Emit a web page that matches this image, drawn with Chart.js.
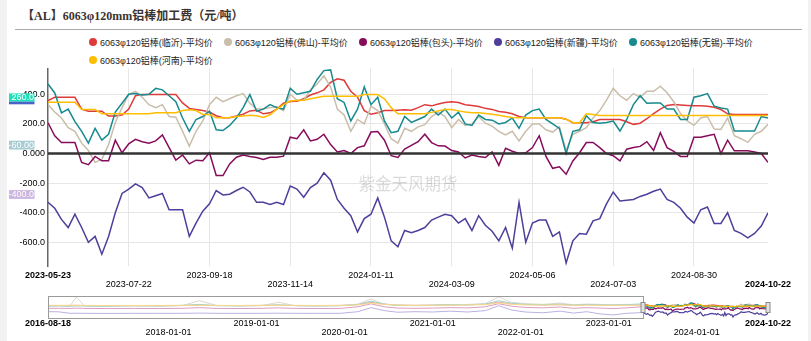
<!DOCTYPE html>
<html><head><meta charset="utf-8">
<script src="https://cdn.jsdelivr.net/npm/chart.js@4.4.1/dist/chart.umd.min.js"></script>
<style>
html,body{margin:0;padding:0;background:#fff;width:811px;height:341px;overflow:hidden;position:relative;font-family:"Liberation Sans","Noto Sans CJK SC",sans-serif;}
#lstrip{position:absolute;left:0;top:0;width:7px;height:341px;background:#f2f2f2;}
#rstrip{position:absolute;right:0;top:0;width:3px;height:341px;background:#f2f2f2;}
#title{position:absolute;left:22px;top:7px;font-weight:bold;font-size:12px;font-family:"Liberation Serif","Noto Sans CJK SC",serif;color:#3b3330;white-space:nowrap;line-height:18px;}
#tline{position:absolute;left:15px;top:29px;width:787px;height:1px;background:#aaa;}
#legend{position:absolute;left:89px;top:35px;width:680px;}
.li{display:inline-flex;align-items:center;width:135px;height:14px;font-size:9px;color:#222;white-space:nowrap;vertical-align:top;}
.dot{width:8px;height:8px;border-radius:50%;margin-right:3px;flex:none;}
#main{position:absolute;left:0;top:60px;}
#nav{position:absolute;left:0;top:290px;}
</style></head>
<body>
<div id="lstrip"></div><div id="rstrip"></div>
<div id="title">【AL】6063φ120mm铝棒加工费（元/吨）</div>
<div id="tline"></div>
<div id="legend"></div>
<canvas id="main" width="811" height="235"></canvas>
<canvas id="nav" width="811" height="51"></canvas>
<script>
// ---------- DATA ----------
const seriesNames = ['6063φ120铝棒(临沂)-平均价','6063φ120铝棒(佛山)-平均价','6063φ120铝棒(包头)-平均价','6063φ120铝棒(新疆)-平均价','6063φ120铝棒(无锡)-平均价','6063φ120铝棒(河南)-平均价'];
const seriesColors = ['#de3a3a','#c9beaa','#870b5b','#4f3e9b','#168a8e','#fdbd00'];
const seriesFaded = ['#efa3a3','#e0d8cc','#dc9cc0','#bdb0e2','#98d0ce','#f9da8a'];

const tickLabels = ['2023-05-23','2023-07-22','2023-09-18','2023-11-14','2024-01-11','2024-03-09','2024-05-06','2024-07-03','2024-08-30','2024-10-22'];

const linyi = [357,380,380,380,380,300,286,286,286,253,
253,260,300,390,398,398,398,398,398,398,
342,305,297,290,280,255,241,241,253,265,
288,292,268,275,300,340,352,353,370,395,
410,430,480,505,495,420,380,290,265,275,
290,290,292,295,292,310,330,322,335,345,
349,345,330,325,318,305,298,284,278,268,
250,242,241,241,241,241,241,232,208,208,
208,215,230,230,230,230,215,197,205,235,
270,300,325,331,328,325,323,322,320,312,
297,268,264,264,264,264,264,264];
const foshan = [331,280,240,175,150,70,20,-60,-40,60,
210,310,400,420,380,330,310,330,250,245,
150,50,150,220,330,380,350,370,390,405,
340,300,300,310,315,290,400,360,360,430,
470,525,450,300,260,150,230,200,320,290,
200,100,70,170,150,180,195,250,280,250,
175,230,190,200,250,205,185,150,125,150,
85,150,200,200,160,145,180,20,130,150,
175,240,290,360,440,390,360,405,380,420,
420,455,410,350,270,220,190,240,250,165,
163,240,120,100,75,130,150,197];
const baotou = [208,119,74,74,74,-60,-75,-20,-49,-49,
90,5,65,96,80,70,85,125,40,-45,
-10,-70,-45,-49,5,-149,-149,-70,-25,-11,
-20,-27,-40,-25,-25,-18,110,100,160,85,
96,130,60,10,20,0,40,52,145,148,
90,-15,-27,30,55,80,130,74,52,50,
20,10,-30,-10,-20,-27,10,-80,35,15,
0,5,40,120,-20,-100,-90,-140,-50,5,
74,75,40,0,-15,-50,29,40,48,80,
20,140,40,15,-20,-20,110,110,120,130,
0,90,18,18,18,10,0,-60];
const xinjiang = [-330,-370,-445,-500,-410,-500,-600,-560,-680,-560,
-400,-270,-240,-205,-230,-300,-285,-270,-380,-380,
-380,-560,-470,-390,-340,-250,-280,-275,-250,-228,
-260,-330,-330,-345,-330,-345,-220,-240,-295,-230,
-200,-130,-180,-310,-370,-420,-530,-440,-410,-300,
-430,-590,-630,-520,-535,-520,-500,-450,-430,-410,
-420,-470,-440,-520,-420,-485,-525,-590,-500,-640,
-330,-600,-470,-450,-450,-560,-530,-740,-590,-540,
-545,-455,-440,-340,-260,-320,-315,-310,-290,-275,
-255,-240,-310,-330,-370,-430,-470,-380,-362,-473,
-473,-400,-520,-540,-570,-540,-490,-400];
const wuxi = [470,409,275,300,215,150,70,170,90,130,
280,340,400,405,395,400,440,430,390,350,
240,150,230,250,286,160,155,190,240,310,
398,286,300,331,310,300,440,400,410,420,
500,560,565,370,345,220,300,450,330,380,
220,141,150,250,210,230,250,300,260,300,
240,280,200,190,260,230,225,200,210,240,
170,260,290,300,230,200,170,0,150,160,
255,210,205,210,219,152,230,330,390,340,
342,342,300,300,230,230,380,390,405,320,
308,300,152,152,152,152,250,240];
const henan = [346,346,346,346,346,297,297,297,268,268,
268,268,268,268,268,268,275,275,275,275,
290,295,290,264,264,241,241,243,250,253,
258,255,243,262,300,330,355,358,360,370,
378,386,386,386,386,386,386,398,398,398,
370,310,268,268,268,268,268,278,288,297,
297,288,280,275,275,270,265,258,250,244,
241,241,241,241,241,241,241,232,208,208,
268,264,257,257,257,257,257,257,257,257,
257,257,257,257,257,257,257,257,257,257,
257,257,257,257,257,257,257,257];
const mainSeries = [linyi, foshan, baotou, xinjiang, wuxi, henan];

// last-value badges on the y axis
const badgeLabels = ['260.0','-60.00','-400.0'];
const badgeColors = ['#1fe0b9','#a7ccd3','#ccb6e0'];
const watermark = '紫金天风期货';

// navigator (full history 2016-08-18 .. 2024-10-22, decimal years)
const navTickYears = [2016.63,2018,2019,2020,2021,2022,2023,2024,2024.81];
const navTickLabels = ['2016-08-18','2018-01-01','2019-01-01','2020-01-01','2021-01-01','2022-01-01','2023-01-01','2024-01-01','2024-10-22'];
const navWindow = [2023.39, 2024.81];
const navHistYears = [2016.63,2016.75,2016.88,2016.95,2017.05,2017.3,2017.6,2017.9,2018.15,2018.35,2018.55,2018.8,2019.05,2019.25,2019.45,2019.7,2019.95,2020.15,2020.3,2020.45,2020.6,2020.8,2021.0,2021.2,2021.4,2021.6,2021.75,2021.9,2022.05,2022.25,2022.45,2022.6,2022.75,2022.9,2023.05,2023.2,2023.39];
const navLinyi = [330,320,330,340,320,320,310,320,330,350,320,320,330,350,320,320,330,400,600,450,360,340,350,370,380,420,620,450,400,370,400,350,380,370,350,370,357];
const navFoshan = [280,300,250,1100,260,240,280,250,300,760,320,280,300,620,280,270,300,450,920,420,350,300,330,380,420,500,1100,600,500,420,550,380,450,420,380,420,330];
const navBaotou = [60,60,50,80,50,40,50,40,60,120,50,40,60,100,50,40,50,200,470,200,80,60,80,120,100,200,480,250,150,100,180,60,120,80,40,100,208];
const navXinjiang = [-250,-260,-400,-390,-400,-410,-400,-400,-400,-380,-400,-400,-400,-390,-400,-400,-400,-250,120,-150,-300,-250,-280,-200,-280,-150,300,-100,-280,-350,-200,-380,-250,-450,-550,-400,-330];
const navWuxi = [260,280,250,280,270,260,300,280,320,420,300,280,320,380,300,280,300,400,720,450,330,320,350,400,380,450,750,520,420,380,450,350,420,380,350,400,470];
const navHenan = [330,330,330,330,320,320,320,320,330,340,330,320,330,340,330,320,320,380,520,420,350,330,340,360,380,400,550,430,380,360,380,340,360,350,340,350,346];
const navHist = [navLinyi, navFoshan, navBaotou, navXinjiang, navWuxi, navHenan];

// ---------- LEGEND ----------
const lg = document.getElementById('legend');
seriesNames.forEach((n,k)=>{
  const d=document.createElement('div'); d.className='li';
  d.innerHTML='<span class="dot" style="background:'+seriesColors[k]+'"></span><span>'+n+'</span>';
  lg.appendChild(d);
});

// ---------- MAIN CHART ----------
const lastIdx = linyi.length - 1;
const xTickIdx = tickLabels.map((_,k)=> k===tickLabels.length-1 ? lastIdx : k*12);
const isEdge = i => i===0 || i===tickLabels.length-1;

const mainPlugin = {
  id:'mainOverlay',
  beforeDatasetsDraw(chart){
    const {ctx, chartArea:a} = chart;
    ctx.save();
    ctx.font='16.5px "Noto Sans CJK SC"';
    ctx.fillStyle='rgba(0,0,0,0.15)';
    ctx.textAlign='center'; ctx.textBaseline='middle';
    ctx.fillText(watermark, a.left+(a.right-a.left)*0.5, a.top+(a.bottom-a.top)*0.583);
    ctx.restore();
  },
  afterDatasetsDraw(chart){
    const {ctx, chartArea:a, scales} = chart;
    const y0 = scales.y.getPixelForValue(0);
    ctx.save();
    ctx.strokeStyle='#333'; ctx.lineWidth=2.5;
    ctx.beginPath(); ctx.moveTo(a.left, y0); ctx.lineTo(a.right, y0); ctx.stroke();
    ctx.restore();
  },
  afterDraw(chart){
    const {ctx, chartArea:a} = chart;
    const tops = [25, 72.3, 121.7];
    ctx.save();
    ctx.font='9px "Liberation Sans"';
    ctx.textAlign='right'; ctx.textBaseline='middle';
    badgeLabels.forEach((t,k)=>{
      const top = a.top + tops[k];
      ctx.fillStyle = badgeColors[k];
      ctx.fillRect(9, top, 25.5, k===0 ? 8.3 : 8.8);
      if(k===0){ ctx.fillStyle='#4b63c6'; ctx.fillRect(9, top+8.3, 25.5, 2.6); }
      ctx.fillStyle='#fff';
      ctx.fillText(t, 34, top+4.6);
    });
    ctx.restore();
  }
};

new Chart(document.getElementById('main'), {
  type:'line',
  data:{datasets: mainSeries.map((vals,k)=>({
    label: seriesNames[k],
    data: vals.map((v,i)=>({x:i,y:v})),
    borderColor: seriesColors[k], borderWidth:1.5,
    pointRadius:0, tension:0, fill:false,
    order: mainSeries.length - k
  }))},
  options:{
    responsive:false, animation:false, devicePixelRatio:1,
    layout:{padding:{top:7,right:43,left:0,bottom:0}},
    plugins:{legend:{display:false}, tooltip:{enabled:false}},
    scales:{
      x:{type:'linear', min:0, max:lastIdx,
        afterBuildTicks:s=>{ s.ticks = xTickIdx.map(v=>({value:v})); },
        afterFit:s=>{ s.height = 29; },
        grid:{drawTicks:false, lineWidth:1,
          color:c=> (c.index===0 || c.index===xTickIdx.length-1) ? 'rgba(0,0,0,0)' : '#e6e6e6'},
        border:{display:false},
        ticks:{autoSkip:false, maxRotation:0, padding:5, color:'#000',
          font:c=>({family:'Liberation Sans', size:9, lineHeight:1, weight: isEdge(c.index)?'bold':'normal'}),
          callback:(v,idx)=>{ const t = tickLabels[idx]; return idx%2===1 ? ['',t] : t; }}
      },
      y:{min:-760, max:575,
        afterFit:s=>{ s.width = 48; },
        ticks:{stepSize:200, includeBounds:false, padding:3, color:'#000',
          font:{family:'Liberation Sans', size:9},
          callback:v=> v===0 ? '0.000' : Number(v).toFixed(1)},
        grid:{drawTicks:false, color:c=> (c.tick && c.tick.value===0) ? 'rgba(0,0,0,0)' : '#e6e6e6'},
        border:{color:'#666', width:1.5}
      }
    }
  },
  plugins:[mainPlugin]
});

// ---------- NAVIGATOR ----------
const navPlugin = {
  id:'navOverlay',
  afterDatasetsDraw(chart){
    const {ctx, chartArea:a, scales} = chart;
    const xs = scales.x.getPixelForValue(navWindow[0]);
    const xe = scales.x.getPixelForValue(navWindow[1]);
    ctx.save();
    ctx.strokeStyle='#9a9a9a'; ctx.lineWidth=1;
    ctx.strokeRect(a.left+0.5, a.top-0.5, xs-a.left, a.bottom-a.top+1);
    const my = (a.top+a.bottom)/2;
    [xs, xe].forEach(x=>{
      ctx.fillStyle='#e2e2e2'; ctx.strokeStyle='#8a8a8a';
      ctx.fillRect(x-2, my-5, 4, 10); ctx.strokeRect(x-2, my-5, 4, 10);
    });
    // axis labels (two staggered rows)
    ctx.fillStyle='#000'; ctx.textAlign='center'; ctx.textBaseline='middle';
    navTickYears.forEach((yr,idx)=>{
      const edge = idx===0 || idx===navTickYears.length-1;
      ctx.font = (edge?'bold ':'') + '9px "Liberation Sans"';
      ctx.fillText(navTickLabels[idx], scales.x.getPixelForValue(yr), a.bottom + 5.5 + (idx%2===1 ? 9.3 : 0));
    });
    ctx.restore();
  }
};
const navStep = (navWindow[1]-navWindow[0]) / lastIdx;
const navDatasets = [];
navHist.forEach((vals,k)=>navDatasets.push({
  data: vals.map((v,i)=>({x:navHistYears[i], y:v})),
  borderColor: seriesFaded[k], borderWidth:1, pointRadius:0, tension:0, order:20-k
}));
mainSeries.forEach((vals,k)=>navDatasets.push({
  data: vals.map((v,i)=>({x:navWindow[0]+i*navStep, y:v})),
  borderColor: seriesColors[k], borderWidth:1.2, pointRadius:0, tension:0, order:10-k
}));

new Chart(document.getElementById('nav'), {
  type:'line',
  data:{datasets:navDatasets},
  options:{
    responsive:false, animation:false, devicePixelRatio:1,
    layout:{padding:{top:7,left:48,right:43,bottom:23}},
    plugins:{legend:{display:false}, tooltip:{enabled:false}},
    scales:{
      x:{type:'linear', display:false, min:navTickYears[0], max:navTickYears[navTickYears.length-1]},
      y:{display:false, min:-830, max:1100}
    }
  },
  plugins:[navPlugin]
});
</script>
</body></html>
